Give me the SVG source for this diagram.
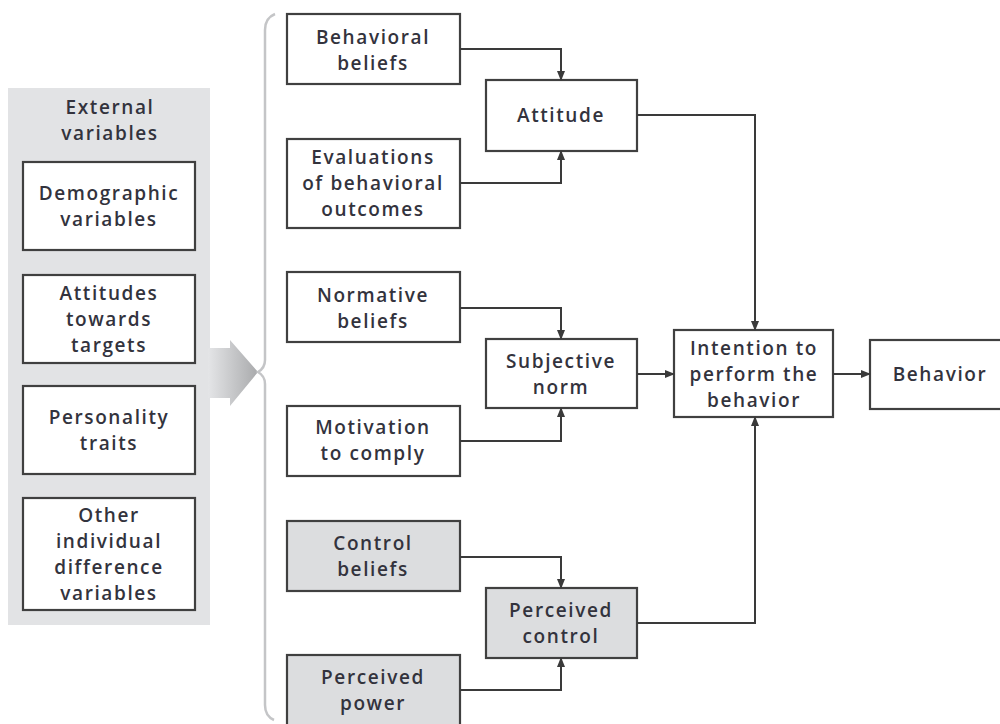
<svg xmlns="http://www.w3.org/2000/svg" width="1000" height="724" viewBox="0 0 1000 724">
<style>
.box{fill:#ffffff;stroke:#404040;stroke-width:2.2}
.gbox{fill:#dcdddf;stroke:#404040;stroke-width:2.2}
.t{font-family:"Open Sans","Noto Sans",sans-serif;font-weight:600;font-size:19px;letter-spacing:1.6px;fill:#33333d;text-anchor:middle}
.c{fill:none;stroke:#3a3a3a;stroke-width:2}
</style>
<defs>
<marker id="ah" markerWidth="10" markerHeight="10" refX="9" refY="5" orient="auto" markerUnits="userSpaceOnUse">
<path d="M0,1 L10,5 L0,9 Z" fill="#3a3a3a"/>
</marker>
<linearGradient id="ag" x1="0" y1="0" x2="1" y2="0">
<stop offset="0" stop-color="#e4e5e7"/>
<stop offset="1" stop-color="#a9aaac"/>
</linearGradient>
</defs>

<g id="external">
<rect x="8" y="88" width="202" height="537" fill="#e2e3e5"/>
<text class="t" x="110" y="114">External</text>
<text class="t" x="110" y="140">variables</text>
</g>
<g id="big-arrow">
<path d="M208,348 L230,348 L230,340 L258,372 L230,406 L230,398 L208,398 Z" fill="url(#ag)"/>
</g>
<g id="bracket">
<path d="M275,14 Q265,18 265,30 L265,360 Q265,368 258,372 Q265,376 265,384 L265,705 Q265,716 274,720" fill="none" stroke="#c4c5c7" stroke-width="2.5"/>
</g>

<g id="demographic">
<rect class="box" x="23" y="162" width="172" height="88"/>
<text class="t" x="109" y="200">Demographic</text>
<text class="t" x="109" y="226">variables</text>
</g>
<g id="attitudes-targets">
<rect class="box" x="23" y="275" width="172" height="88"/>
<text class="t" x="109" y="300">Attitudes</text>
<text class="t" x="109" y="326">towards</text>
<text class="t" x="109" y="352">targets</text>
</g>
<g id="personality">
<rect class="box" x="23" y="386" width="172" height="88"/>
<text class="t" x="109" y="424">Personality</text>
<text class="t" x="109" y="450">traits</text>
</g>
<g id="other">
<rect class="box" x="23" y="498" width="172" height="112"/>
<text class="t" x="109" y="522">Other</text>
<text class="t" x="109" y="548">individual</text>
<text class="t" x="109" y="574">difference</text>
<text class="t" x="109" y="600">variables</text>
</g>

<g id="behavioral-beliefs">
<rect class="box" x="287" y="14" width="173" height="70"/>
<text class="t" x="373" y="44">Behavioral</text>
<text class="t" x="373" y="70">beliefs</text>
</g>
<g id="evaluations">
<rect class="box" x="287" y="139" width="173" height="89"/>
<text class="t" x="373" y="164">Evaluations</text>
<text class="t" x="373" y="190">of behavioral</text>
<text class="t" x="373" y="216">outcomes</text>
</g>
<g id="normative-beliefs">
<rect class="box" x="287" y="272" width="173" height="70"/>
<text class="t" x="373" y="302">Normative</text>
<text class="t" x="373" y="328">beliefs</text>
</g>
<g id="motivation">
<rect class="box" x="287" y="406" width="173" height="70"/>
<text class="t" x="373" y="434">Motivation</text>
<text class="t" x="373" y="460">to comply</text>
</g>
<g id="control-beliefs">
<rect class="gbox" x="287" y="521" width="173" height="70"/>
<text class="t" x="373" y="550">Control</text>
<text class="t" x="373" y="576">beliefs</text>
</g>
<g id="perceived-power">
<rect class="gbox" x="287" y="655" width="173" height="72"/>
<text class="t" x="373" y="684">Perceived</text>
<text class="t" x="373" y="710">power</text>
</g>

<g id="attitude">
<rect class="box" x="486" y="80" width="151" height="71"/>
<text class="t" x="561" y="122">Attitude</text>
</g>
<g id="subjective-norm">
<rect class="box" x="486" y="339" width="151" height="69"/>
<text class="t" x="561" y="368">Subjective</text>
<text class="t" x="561" y="394">norm</text>
</g>
<g id="perceived-control">
<rect class="gbox" x="486" y="588" width="151" height="70"/>
<text class="t" x="561" y="617">Perceived</text>
<text class="t" x="561" y="643">control</text>
</g>
<g id="intention">
<rect class="box" x="674" y="330" width="159" height="87"/>
<text class="t" x="754" y="355">Intention to</text>
<text class="t" x="754" y="381">perform the</text>
<text class="t" x="754" y="407">behavior</text>
</g>
<g id="behavior">
<rect class="box" x="870" y="340" width="135" height="69"/>
<text class="t" x="940" y="381">Behavior</text>
</g>

<g id="connectors">
<path class="c" d="M460,49 H561 V80" marker-end="url(#ah)"/>
<path class="c" d="M460,183 H561 V151" marker-end="url(#ah)"/>
<path class="c" d="M637,115 H755 V330" marker-end="url(#ah)"/>
<path class="c" d="M460,308 H561 V339" marker-end="url(#ah)"/>
<path class="c" d="M460,441 H561 V408" marker-end="url(#ah)"/>
<path class="c" d="M637,374 H674" marker-end="url(#ah)"/>
<path class="c" d="M833,374 H870" marker-end="url(#ah)"/>
<path class="c" d="M460,557 H561 V588" marker-end="url(#ah)"/>
<path class="c" d="M460,690 H561 V658" marker-end="url(#ah)"/>
<path class="c" d="M637,623 H755 V417" marker-end="url(#ah)"/>
</g>
</svg>
